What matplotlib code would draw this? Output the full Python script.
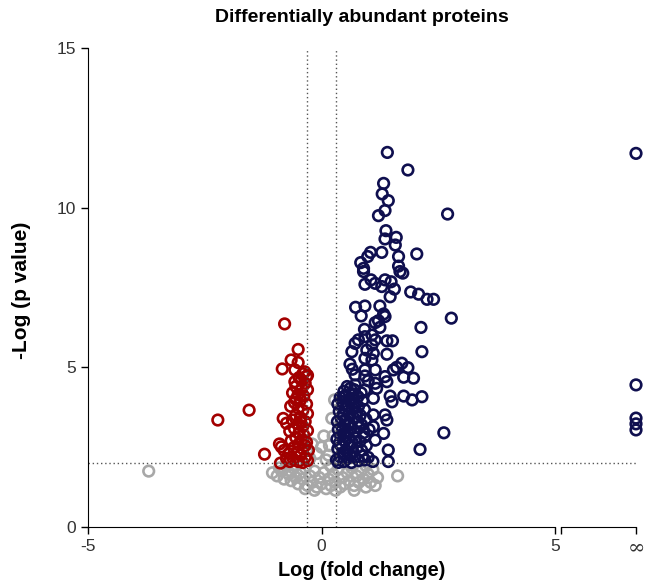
import numpy as np
import matplotlib
matplotlib.use("Agg")
import matplotlib.pyplot as plt
import matplotlib.transforms as mtrans

plt.rcParams['font.family'] = ['Liberation Sans', 'DejaVu Sans']
plt.rcParams['axes.unicode_minus'] = False

# -log p threshold and fold change cut-off
p_cut = 2.0
fc_cut = 0.3

# up-regulated (blue)
up_x = [1.41, 1.85, 1.33, 1.30, 1.43, 1.36, 1.22, 2.70, 1.38, 1.36, 1.60, 1.58, 1.29, 1.05, 0.99, 1.65, 2.04,
        0.84, 0.90, 1.65, 0.90, 1.68, 1.74, 1.06, 0.93, 1.15, 1.36, 1.49, 1.29, 1.56, 1.47, 1.91, 2.08, 2.26, 2.40,
        0.73, 0.93, 0.85, 1.25, 1.33, 1.36, 1.22, 1.15, 1.25, 2.78, 2.13, 0.92, 0.79, 0.72, 0.93, 1.08, 1.15, 1.40,
        1.52, 1.08, 0.65, 0.97, 1.11, 1.40, 2.15, 0.93, 1.08, 0.61, 0.66, 1.72, 1.61, 1.85, 1.54, 0.93, 1.15, 0.72,
        0.93, 1.36, 1.76, 1.97, 1.00, 1.40, 0.72, 1.18, 0.93, 1.47, 1.76, 1.94, 2.15, 1.51, 1.11, 0.47, 1.11, 1.36,
        0.79, 1.15, 1.40, 1.11, 1.33, 1.15, 2.62, 2.11, 1.43, 1.43, 0.93, 1.00,
        0.55, 0.62, 0.70, 0.48, 0.40, 0.52, 0.60, 0.68, 0.78, 0.85, 0.35, 0.45, 0.55, 0.63, 0.72, 0.88,
        0.38, 0.50, 0.58, 0.66, 0.75, 0.83, 0.92, 0.45, 0.34, 0.42, 0.52, 0.60, 0.69, 0.78, 0.86, 0.95, 0.50,
        0.36, 0.44, 0.55, 0.63, 0.72, 0.80, 0.90, 0.47, 1.02, 0.33, 0.41, 0.50, 0.58, 0.66, 0.74, 0.82, 0.92, 0.38,
        0.35, 0.43, 0.52, 0.60, 0.68, 0.76, 0.86, 0.96, 0.46, 0.32, 0.40, 0.48, 0.56, 0.64, 0.72, 0.80, 0.88, 0.36,
        0.60, 1.10]
up_y = [11.73, 11.18, 10.76, 10.43, 10.22, 9.91, 9.75, 9.80, 9.28, 9.02, 9.07, 8.83, 8.60, 8.60, 8.47, 8.47, 8.55,
        8.28, 8.10, 8.17, 8.00, 8.00, 7.95, 7.74, 7.60, 7.63, 7.74, 7.68, 7.53, 7.45, 7.21, 7.36, 7.29, 7.13, 7.13,
        6.88, 6.92, 6.61, 6.92, 6.67, 6.59, 6.46, 6.40, 6.25, 6.54, 6.25, 6.19, 5.86, 5.75, 5.96, 6.01, 5.86, 5.83,
        5.83, 5.70, 5.49, 5.54, 5.44, 5.41, 5.49, 5.28, 5.23, 5.10, 4.94, 5.13, 5.00, 4.99, 4.92, 4.92, 4.92, 4.76,
        4.73, 4.71, 4.69, 4.66, 4.58, 4.55, 4.45, 4.34, 4.29, 4.10, 4.10, 3.98, 4.08, 3.92, 4.03, 4.08, 3.51, 3.51,
        3.77, 4.50, 3.35, 3.14, 2.93, 2.72, 2.95, 2.43, 2.41, 2.05, 2.10, 2.18,
        4.40, 4.35, 4.30, 4.25, 4.05, 4.12, 4.02, 4.15, 4.08, 4.20, 3.85, 3.92, 3.80, 3.95, 3.88, 3.95,
        3.62, 3.70, 3.55, 3.72, 3.60, 3.50, 3.68, 3.50, 3.30, 3.40, 3.35, 3.25, 3.42, 3.30, 3.20, 3.38, 3.20,
        3.05, 3.12, 2.98, 3.10, 3.00, 3.12, 2.95, 2.92, 3.05, 2.75, 2.85, 2.70, 2.80, 2.65, 2.78, 2.68, 2.82, 2.62,
        2.45, 2.52, 2.40, 2.55, 2.35, 2.48, 2.40, 2.55, 2.30, 2.10, 2.20, 2.05, 2.15, 2.02, 2.18, 2.08, 2.22, 2.02,
        2.28, 2.05]

# down-regulated (red)
down_x = [-0.79, -0.50, -0.65, -0.50, -0.84, -0.57, -0.36, -0.32, -0.43, -0.57, -1.55, -2.22, -0.82, -0.75,
          -1.22, -0.86, -0.88, -0.90, -0.80, -0.75,
          -0.40, -0.30, -0.48, -0.35, -0.55, -0.42, -0.30, -0.62, -0.50, -0.38, -0.45, -0.58, -0.32, -0.66,
          -0.50, -0.40, -0.30, -0.55, -0.45, -0.62, -0.35, -0.50, -0.40, -0.58, -0.30, -0.68, -0.48, -0.38,
          -0.55, -0.42, -0.65, -0.32, -0.50, -0.60, -0.40, -0.28, -0.52, -0.70, -0.45, -0.35, -0.60, -0.50,
          -0.40, -0.30, -0.68, -0.55, -0.45, -0.35]
down_y = [6.36, 5.56, 5.23, 5.15, 4.95, 4.92, 4.86, 4.71, 4.60, 4.55, 3.66, 3.35, 3.40, 3.25,
          2.28, 2.51, 2.00, 2.60, 2.40, 2.15,
          4.80, 4.75, 4.68, 4.50, 4.40, 4.35, 4.30, 4.20, 4.15, 4.10, 3.98, 3.90, 3.85, 3.78,
          3.72, 3.65, 3.55, 3.50, 3.42, 3.35, 3.30, 3.22, 3.15, 3.08, 3.02, 3.00, 2.95, 2.88,
          2.80, 2.72, 2.70, 2.65, 2.58, 2.48, 2.45, 2.40, 2.35, 2.30, 2.25, 2.18, 2.12, 2.05,
          2.02, 2.08, 2.05, 4.00, 3.30, 2.55]

# not significant (grey)
ns_x = [-3.70, 1.63,
        -1.05, -0.95, -0.85, -0.80, -0.70, -0.65, -0.60, -0.55, -0.50, -0.45, -0.40, -0.35, -0.30, -0.25,
        -0.20, -0.15, -0.10, -0.05, 0.00, 0.05, 0.10, 0.15, 0.20, 0.25, 0.30, 0.35, 0.40, 0.45, 0.50, 0.55,
        0.60, 0.65, 0.70, 0.75, 0.80, 0.85, 0.90, 0.95, 1.00, 1.05, 1.10, 1.15, 1.20, -0.75, -0.35, 0.20,
        0.62, 0.95, -0.55, -0.15, 0.30, 0.70, -0.90,
        -0.20, -0.10, 0.00, 0.10, 0.17, 0.25, 0.28, 0.22, -0.25, 0.05, 0.15]
ns_y = [1.75, 1.60,
        1.70, 1.60, 1.75, 1.50, 1.65, 1.45, 1.85, 1.55, 1.35, 1.70, 1.50, 1.85, 1.30, 1.60,
        1.40, 1.75, 1.25, 1.55, 1.35, 1.70, 1.20, 1.50, 1.30, 1.65, 1.40, 1.80, 1.25, 1.55, 1.35, 1.70,
        1.45, 1.85, 1.30, 1.60, 1.40, 1.75, 1.50, 1.25, 1.65, 1.40, 1.80, 1.30, 1.55, 1.90, 1.20, 1.90,
        1.95, 1.92, 1.95, 1.15, 1.15, 1.15, 1.85,
        2.60, 2.30, 2.50, 2.10, 2.55, 2.85, 3.98, 3.40, 2.15, 2.85, 2.25]

# only detected in one group -> infinite fold change
inf_y = [11.70, 4.45, 3.41, 3.23, 3.04]

blue = '#0f0f4f'
red = '#a30000'
grey = '#a8a8a8'
dot_col = '#555555'

fig = plt.figure(figsize=(6.45, 5.87), dpi=100)
ax = fig.add_axes([88/645, 60/587, 467/645, 479/587])
ax2 = fig.add_axes([561/645, 60/587, 75/645, 479/587])

mk = dict(marker='o', s=58, facecolors='none', linewidths=1.9)
ax.scatter(ns_x, ns_y, edgecolors=grey, **mk)
ax.scatter(down_x, down_y, edgecolors=red, **mk)
ax.scatter(up_x, up_y, edgecolors=blue, **mk)
ax2.scatter([1]*len(inf_y), inf_y, edgecolors=blue, clip_on=False, zorder=5, **mk)

# threshold lines (horizontal one runs across the axis break)
trans = mtrans.blended_transform_factory(ax.transAxes, ax.transData)
ax.plot([0, (636-88)/467], [p_cut, p_cut], transform=trans, clip_on=False,
        color=dot_col, lw=1, ls=(0, (1, 2)))
ax.axvline(-fc_cut, color=dot_col, lw=1, ls=(0, (1, 2)))
ax.axvline(fc_cut, color=dot_col, lw=1, ls=(0, (1, 2)))

ax.set_xlim(-5, 5)
ax.set_ylim(0, 15)
ax.set_xticks([-5, 0, 5])
ax.set_yticks([0, 5, 10, 15])
ax.tick_params(labelsize=12.5, labelcolor='#333333', length=5, width=1)
for s in ['top', 'right']:
    ax.spines[s].set_visible(False)

ax2.set_xlim(0, 1)
ax2.set_ylim(0, 15)
ax2.set_xticks([0, 1])
ax2.set_xticklabels(['', '\u221e'], fontsize=15, family='DejaVu Serif', color='#333333')
ax2.set_yticks([])
ax2.tick_params(length=5, width=1)
ax2.patch.set_visible(False)
for s in ['top', 'right', 'left']:
    ax2.spines[s].set_visible(False)

fig.text(362/645, 1 - 18/587, 'Differentially abundant proteins', ha='center', va='center',
         fontsize=14, fontweight='bold')
fig.text(362/645, 1 - 570/587, 'Log (fold change)', ha='center', va='center',
         fontsize=14.3, fontweight='bold')
fig.text(22/645, 1 - 290/587, '-Log (p value)', ha='center', va='center', rotation=90,
         fontsize=15, fontweight='bold')

fig.savefig('out.png', dpi=100)
